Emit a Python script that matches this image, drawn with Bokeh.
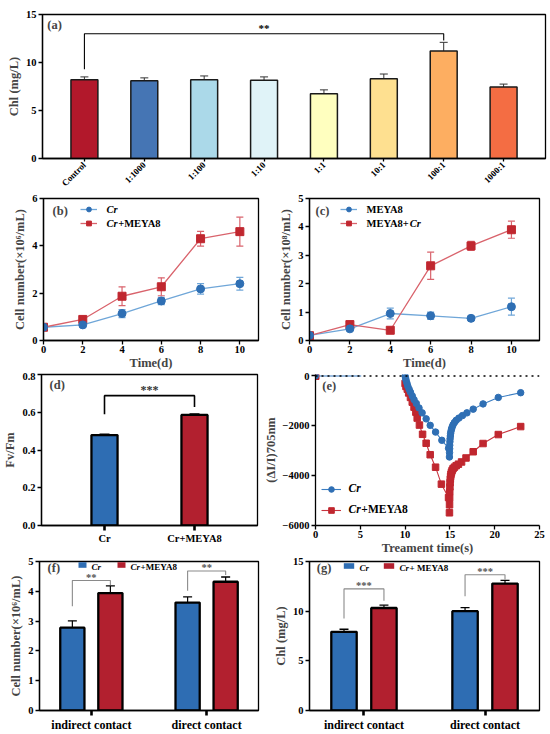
from math import pi
from bokeh.plotting import figure
from bokeh.models import (ColumnDataSource, FactorRange, Range1d, Whisker, TeeHead,
                          Legend, LegendItem, Label, Span, NumeralTickFormatter)
from bokeh.layouts import column, row
from bokeh.transform import dodge
from bokeh.embed import file_html
from bokeh.resources import INLINE
from bokeh.core.properties import value

FONT = "Liberation Serif"
BLUE = "#2E6DB3"
RED = "#B2202F"
BLUE_M = "#2F6FB4"
BLUE_L = "#6FA6D8"
RED_M = "#C0272F"
RED_L = "#D9636C"

# ---------------- data ----------------
# (a)
a_cats = ["Control", "1:1000", "1:100", "1:10", "1:1", "10:1", "100:1", "1000:1"]
a_vals = [8.2, 8.1, 8.2, 8.15, 6.75, 8.3, 11.2, 7.45]
a_errs = [0.3, 0.3, 0.4, 0.35, 0.4, 0.5, 0.9, 0.3]
a_colors = ["#B2182B", "#4575B4", "#ABD9E9", "#E0F3F8", "#FFFFBF", "#FEE090", "#FDAE61", "#F46D43"]
a_bracket_x = ["Control", "Control", "100:1", "100:1"]
a_bracket_y = [9.3, 13.0, 13.0, 12.3]
a_sig = "**"
a_sig_y = 13.55

# (b)
days = [0, 2, 4, 6, 8, 10]
b_cr = [0.56, 0.66, 1.14, 1.67, 2.18, 2.4]
b_cr_err = [0.05, 0.05, 0.17, 0.15, 0.22, 0.27]
b_crm = [0.56, 0.89, 1.87, 2.27, 4.3, 4.6]
b_crm_err = [0.05, 0.13, 0.4, 0.38, 0.31, 0.61]
b_names = [[("Cr", "bold italic")], [("Cr", "bold italic"), ("+MEYA8", "bold")]]

# (c)
c_m = [0.18, 0.41, 0.95, 0.87, 0.78, 1.19]
c_m_err = [0.04, 0.05, 0.19, 0.13, 0.07, 0.3]
c_mc = [0.17, 0.56, 0.36, 2.63, 3.33, 3.9]
c_mc_err = [0.03, 0.05, 0.03, 0.48, 0.16, 0.3]
c_names = [[("MEYA8", "bold")], [("MEYA8+", "bold"), ("Cr", "bold italic")]]

# (d)
d_cats = ["Cr", "Cr+MEYA8"]
d_vals = [0.479, 0.586]
d_errs = [0.004, 0.005]
d_bracket_y = [0.59, 0.688, 0.688, 0.628]
d_sig = "***"
d_sig_y = 0.718
d_names = [[("Cr", "bold italic")], [("Cr", "bold italic"), ("+MEYA8", "bold")]]

# (e)
e_base_t = [0, 5.1]
e_base_y = [0, 0]
e_cr_t = [10.0, 10.05, 10.1, 10.2, 10.3, 10.45, 10.6, 10.8, 11.0, 11.25, 11.55, 11.9, 12.35,
          12.8, 13.4, 14.1, 14.85, 14.95, 14.96, 14.97, 14.98, 15.0, 15.02, 15.05, 15.08,
          15.12, 15.18, 15.25, 15.35, 15.5, 15.7, 16.0, 16.4, 16.9, 17.6, 18.7, 20.4, 22.9]
e_cr_y = [0, -80, -160, -280, -400, -530, -650, -800, -950, -1100, -1280, -1480, -1720,
          -1980, -2250, -2580, -2900, -3250, -3080, -2920, -2780, -2640, -2520, -2410, -2310,
          -2220, -2130, -2050, -1960, -1870, -1780, -1690, -1590, -1480, -1330, -1120, -860, -670]
e_crm_t = [10.0, 10.1, 10.25, 10.4, 10.6, 10.8, 11.0, 11.2, 11.35, 11.6, 11.95, 12.35, 12.8,
           13.4, 14.05, 14.85, 14.95, 14.96, 14.97, 14.98, 15.0, 15.02, 15.05, 15.08, 15.12,
           15.18, 15.25, 15.35, 15.5, 15.7, 15.95, 16.3, 16.8, 17.6, 18.7, 20.4, 22.9]
e_crm_y = [-300, -420, -530, -680, -860, -1050, -1250, -1450, -1690, -1970, -2340, -2700, -3160,
           -3660, -4340, -4880, -5490, -5170, -4900, -4650, -4450, -4280, -4140, -4030, -3940,
           -3860, -3790, -3720, -3660, -3600, -3540, -3450, -3290, -3040, -2710, -2350, -2030]
e_names = [[("Cr", "bold italic")], [("Cr", "bold italic"), ("+MEYA8", "bold")]]

# (f)
f_cats = ["indirect contact", "direct contact"]
f_cr = [2.78, 3.62]
f_cr_err = [0.23, 0.19]
f_crm = [3.94, 4.32]
f_crm_err = [0.24, 0.16]
f_br_left = [3.5, 4.02]
f_br_top = [4.36, 4.68]
f_br_right = [4.21, 4.55]
f_sig = ["**", "**"]
f_names = [[("Cr", "bold italic")], [("Cr", "bold italic"), ("+MEYA8", "bold")]]

# (g)
g_cr = [7.92, 10.0]
g_cr_err = [0.26, 0.36]
g_crm = [10.32, 12.78]
g_crm_err = [0.28, 0.32]
g_br_left = [9.27, 11.5]
g_br_top = [12.24, 13.67]
g_br_right = [11.05, 13.2]
g_sig = ["***", "***"]
g_names = [[("Cr", "bold italic")], [("Cr", "bold italic"), (" + MEYA8", "bold")]]

OFF = 0.165  # dodge offset inside a group

# approximate advance widths (em) of Times-metric fonts, used to butt text pieces together
W_BI = {"C": 0.667, "r": 0.389}
W_B = {"+": 0.570, "M": 0.944, "E": 0.667, "Y": 0.722, "A": 0.722, "8": 0.5, " ": 0.25,
       "C": 0.722, "r": 0.444}


def tw(text, style, size):
    table = W_BI if "italic" in style else W_B
    return sum(table.get(ch, 0.55) for ch in text) * size


def rich(p, x, y, parts, size, align="left", y_offset=0.0, x_offset=0.0):
    total = sum(tw(t, s, size) for t, s in parts)
    off = x_offset - (total / 2 if align == "center" else 0)
    for t, s in parts:
        p.add_layout(Label(x=x, y=y, x_offset=off, y_offset=y_offset, text=t, text_font=FONT,
                           text_font_style=s, text_font_size=f"{size}px",
                           text_baseline="middle", text_align="left", text_color="black"))
        off += tw(t, s, size) + (0.6 if "italic" in s else 0)


def make_fig(w, h, xr, yr, bl, br, bt, bb, outline=True):
    p = figure(width=w, height=h, x_range=xr, y_range=yr, toolbar_location=None,
               output_backend="svg", tools="",
               min_border_left=bl, min_border_right=br, min_border_top=bt, min_border_bottom=bb)
    p.grid.visible = False
    p.outline_line_color = "black" if outline else None
    p.outline_line_width = 1.3
    p.background_fill_color = "white"
    p.border_fill_color = "white"
    for ax in p.axis:
        ax.axis_line_width = 1.3
        ax.axis_line_color = "black"
        ax.major_tick_in = 0
        ax.major_tick_out = 4
        ax.major_tick_line_width = 1.3
        ax.minor_tick_line_color = None
        ax.major_label_text_font = FONT
        ax.major_label_text_font_style = "bold"
        ax.major_label_text_font_size = "10.5px"
        ax.major_label_text_color = "black"
        ax.axis_label_text_font = FONT
        ax.axis_label_text_font_style = "bold"
        ax.axis_label_text_font_size = "12.5px"
        ax.axis_label_standoff = 2
        ax.major_label_standoff = 2
    return p


def panel_label(p, x, y, t):
    p.add_layout(Label(x=x, y=y, text=t, text_font=FONT, text_font_style="bold",
                       text_font_size="12.5px", text_baseline="top", text_align="left"))


def style_legend(lg):
    lg.border_line_color = None
    lg.background_fill_alpha = 0
    lg.label_text_font_size = "1px"
    lg.label_width = 5
    lg.click_policy = "none"


def sig_text(p, xs, ys, texts, color="black", size="11px"):
    p.text(x=xs, y=ys, text=texts, text_align="center", text_baseline="middle",
           text_font=value(FONT), text_font_style="bold", text_font_size=size, text_color=color)


# ---------------- (a) ----------------
pa = make_fig(550, 194, FactorRange(factors=a_cats, range_padding=0.05), Range1d(0, 15), 42, 5, 14, 34)
srca = ColumnDataSource(dict(cat=a_cats, val=a_vals,
                             up=[v + e for v, e in zip(a_vals, a_errs)], color=a_colors))
pa.add_layout(Whisker(base="cat", upper="up", lower="val", source=srca, line_color="#333333",
                      line_width=1, upper_head=TeeHead(size=8, line_color="#333333", line_width=1),
                      lower_head=None, level="underlay"))
pa.vbar(x="cat", top="val", width=0.45, fill_color="color", line_color="#1a1a1a",
        line_width=1.5, source=srca)
pa.line(x=a_bracket_x, y=a_bracket_y, line_color="black", line_width=1.1)
amid = (a_cats.index(a_bracket_x[0]) + a_cats.index(a_bracket_x[-1])) / 2 + 0.5
sig_text(pa, [amid], [a_sig_y], [a_sig], size="11px")
pa.yaxis.ticker = [0, 5, 10, 15]
pa.yaxis.axis_label = "Chl (mg/L)"
pa.xaxis.major_label_orientation = pi / 4
pa.xaxis.major_label_text_font_size = "9px"
pa.xaxis.major_tick_out = 3
panel_label(pa, -0.12, 14.6, "(a)")


# ---------------- line panels ----------------
def line_panel(w, bl, br, xend, yend, yticks, s1, e1, s2, e2, names, ylabel, legend_vx,
               frame_w, lab_xy, lab):
    frame_h = 144
    p = make_fig(w, 178, Range1d(0, xend), Range1d(0, yend), bl, br, 4, 30)
    src1 = ColumnDataSource(dict(x=days, y=s1, lo=[a - b for a, b in zip(s1, e1)],
                                 hi=[a + b for a, b in zip(s1, e1)]))
    src2 = ColumnDataSource(dict(x=days, y=s2, lo=[a - b for a, b in zip(s2, e2)],
                                 hi=[a + b for a, b in zip(s2, e2)]))
    for src, col in ((src1, BLUE_L), (src2, RED_L)):
        p.add_layout(Whisker(base="x", upper="hi", lower="lo", source=src, line_color=col,
                             line_width=1.2,
                             upper_head=TeeHead(size=7, line_color=col, line_width=1.2),
                             lower_head=TeeHead(size=7, line_color=col, line_width=1.2),
                             level="underlay"))
    l1 = p.line("x", "y", source=src1, line_color=BLUE_L, line_width=1.3)
    l2 = p.line("x", "y", source=src2, line_color=RED_L, line_width=1.3)
    m2 = p.scatter("x", "y", source=src2, marker="square", size=8, fill_color=RED_M, line_color=RED_M)
    m1 = p.scatter("x", "y", source=src1, marker="circle", size=8, fill_color=BLUE_M, line_color=BLUE_M)
    vy = 111
    lg = Legend(items=[LegendItem(label=value(""), renderers=[l1, m1]),
                       LegendItem(label=value(""), renderers=[l2, m2])],
                location=(legend_vx, vy), glyph_width=17, glyph_height=12, label_height=12,
                spacing=2, padding=2, label_standoff=7)
    style_legend(lg)
    p.add_layout(lg)
    # legend texts (italic species name + upright strain)
    tx = (legend_vx + 2 + 17 + 7) * xend / frame_w
    top_px = frame_h - vy - 30
    for k, parts in enumerate(names):
        cy = yend - (top_px + 2 + 6 + k * 14) * yend / frame_h
        rich(p, tx, cy, parts, 10.5)
    p.xaxis.ticker = days
    p.yaxis.ticker = yticks
    p.xaxis.axis_label = "Time(d)"
    p.xaxis.axis_label_standoff = 0
    p.xaxis.major_label_standoff = 1
    p.yaxis.axis_label = ylabel
    panel_label(p, lab_xy[0], lab_xy[1], lab)
    return p


pb = line_panel(260, 43, 2, 10.95, 6, [0, 2, 4, 6], b_cr, b_cr_err, b_crm, b_crm_err,
                b_names, "Cell number(×10⁶/mL)", 37, 215, (0.46, 5.75), "(b)")
pc = line_panel(290, 49, 11, 11.39, 5, [0, 1, 2, 3, 4, 5], c_m, c_m_err, c_mc, c_mc_err,
                c_names, "Cell number(×10⁸/mL)", 31, 230, (0.3, 4.79), "(c)")

# ---------------- (d) ----------------
pd_ = make_fig(260, 185, FactorRange(factors=d_cats, range_padding=0.2), Range1d(0, 0.8), 40, 3, 2, 29)
srcd = ColumnDataSource(dict(cat=d_cats, val=d_vals, up=[v + e for v, e in zip(d_vals, d_errs)],
                             color=[BLUE, RED]))
pd_.add_layout(Whisker(base="cat", upper="up", lower="val", source=srcd, line_color="black",
                       line_width=1.2, upper_head=TeeHead(size=10, line_color="black", line_width=1.5),
                       lower_head=None))
pd_.vbar(x="cat", top="val", width=0.29, fill_color="color", line_color="black",
         line_width=2.3, source=srcd)
pd_.line(x=[d_cats[0], d_cats[0], d_cats[1], d_cats[1]], y=d_bracket_y, line_color="black",
         line_width=1.6)
sig_text(pd_, [1.0], [d_sig_y], [d_sig], color="#333333", size="12px")
pd_.yaxis.ticker = [0, 0.2, 0.4, 0.6, 0.8]
pd_.yaxis.formatter = NumeralTickFormatter(format="0.0")
pd_.yaxis.axis_label = "Fv/Fm"
pd_.xaxis.major_tick_line_width = 2.6
pd_.xaxis.major_tick_out = 5
pd_.xaxis.major_label_overrides = {c: "" for c in d_cats}
for i, parts in enumerate(d_names):
    rich(pd_, i + 0.5, 0, parts, 11, align="center", y_offset=-16)
panel_label(pd_, -0.11, 0.78, "(d)")

# ---------------- (e) ----------------
pe = make_fig(290, 185, Range1d(0, 25), Range1d(-6000, 60), 49, 11, 2, 29, outline=False)
pe.add_layout(Span(location=0, dimension="width", line_dash="dotted", line_color="black",
                   line_width=1.3))
pe.line(x=e_base_t, y=e_base_y, line_color="#3A7DC2", line_width=1.2)
le2 = pe.line(x=e_crm_t, y=e_crm_y, line_color="#C8353F", line_width=1.1)
me2 = pe.scatter(x=e_crm_t, y=e_crm_y, marker="square", size=6.5, fill_color=RED_M, line_color=RED_M)
le1 = pe.line(x=e_cr_t, y=e_cr_y, line_color="#3A7DC2", line_width=1.1)
me1 = pe.scatter(x=e_cr_t, y=e_cr_y, marker="circle", size=6.5, fill_color=BLUE_M, line_color=BLUE_M)
pe.scatter(x=e_base_t[:1], y=e_base_y[:1], marker="square", size=7, fill_color=RED_M, line_color=RED_M)
pe.scatter(x=e_base_t[:1], y=e_base_y[:1], marker="circle", size=6, fill_color=BLUE_M, line_color=BLUE_M)
lge = Legend(items=[LegendItem(label=value(""), renderers=[le1, me1]),
                    LegendItem(label=value(""), renderers=[le2, me2])],
             location=(6, 8), glyph_width=20, glyph_height=14, label_height=14, spacing=7,
             padding=2, label_standoff=6)
style_legend(lge)
pe.add_layout(lge)
e_fh, e_fw = 154, 230
for k, parts in enumerate(e_names):
    cy = -6000 + (8 + 2 + 7 + (1 - k) * 21) * 6060 / e_fh
    rich(pe, (6 + 2 + 20 + 6) * 25 / e_fw, cy, parts, 11.5)
pe.xaxis.ticker = [0, 5, 10, 15, 20, 25]
pe.yaxis.ticker = [-6000, -4000, -2000, 0]
pe.xaxis.axis_label = "Treament time(s)"
pe.xaxis.axis_label_standoff = 0
pe.xaxis.major_label_standoff = 1
pe.yaxis.axis_label = "(ΔI/I)705nm"
panel_label(pe, 0.76, -137, "(e)")


# ---------------- (f), (g) ----------------
def group_panel(w, bl, br, yend, yticks, s1, e1, s2, e2, bl_, bt_, br_, sigs, ylabel,
                names, leg_vx, leg_vy, leg_glyph, item2_px, frame_w, lab_xy, lab):
    frame_h = 152
    p = make_fig(w, 177, FactorRange(factors=f_cats, range_padding=-0.05), Range1d(0, yend),
                 bl, br, 4, 21)
    for s, e, off, col in ((s1, e1, -OFF, BLUE), (s2, e2, OFF, RED)):
        src = ColumnDataSource(dict(cat=f_cats, val=s, up=[a + b for a, b in zip(s, e)]))
        p.add_layout(Whisker(base=dodge("cat", off, range=p.x_range), upper="up", lower="val",
                             source=src, line_color="black", line_width=1.2,
                             upper_head=TeeHead(size=9, line_color="black", line_width=1.3),
                             lower_head=None))
        p.vbar(x=dodge("cat", off, range=p.x_range), top="val", width=0.21, fill_color=col,
               line_color="black", line_width=2.3, source=src)
    xs, ys = [], []
    for i in range(len(f_cats)):
        c = i + 0.5
        xs.append([c - OFF, c - OFF, c + OFF, c + OFF])
        ys.append([bl_[i], bt_[i], bt_[i], br_[i]])
    p.multi_line(xs=xs, ys=ys, line_color="#8a8a8a", line_width=1.1)
    sig_text(p, [i + 0.5 for i in range(len(f_cats))],
             [t + (yend * 0.022) for t in bt_], sigs, color="#555555", size="10.5px")
    d1 = p.vbar(x=[f_cats[0]], top=[0], width=0, fill_color=BLUE, line_color=None)
    d2 = p.vbar(x=[f_cats[0]], top=[0], width=0, fill_color=RED, line_color=None)
    g1 = leg_vx + 1
    spacing = item2_px - (g1 + leg_glyph + 3 + 5)
    lg = Legend(items=[LegendItem(label=value(""), renderers=[d1]),
                       LegendItem(label=value(""), renderers=[d2])],
                orientation="horizontal", location=(leg_vx, leg_vy), glyph_width=leg_glyph,
                glyph_height=7, label_height=11, spacing=spacing, padding=1, label_standoff=3)
    style_legend(lg)
    p.add_layout(lg)
    x0 = 0.05
    ppu = frame_w / 1.9
    cy = yend - (frame_h - leg_vy - 13 + 1 + 5.5) * yend / frame_h
    for gx, parts in zip((g1, item2_px), names):
        rich(p, x0 + (gx + leg_glyph + 3) / ppu, cy, parts, 9)
    p.yaxis.ticker = yticks
    p.yaxis.axis_label = ylabel
    p.xaxis.major_tick_line_width = 2.6
    p.xaxis.major_tick_out = 5
    p.xaxis.major_label_text_font_size = "12px"
    panel_label(p, lab_xy[0], lab_xy[1], lab)
    return p


pf = group_panel(260, 39, 2, 5, [0, 1, 2, 3, 4, 5], f_cr, f_cr_err, f_crm, f_crm_err,
                 f_br_left, f_br_top, f_br_right, f_sig, "Cell number(×10⁶/mL)",
                 f_names, 38, 140, 10, 78, 219, (0.12, 5.02), "(f)")
pg = group_panel(290, 49, 11, 15, [0, 5, 10, 15], g_cr, g_cr_err, g_crm, g_crm_err,
                 g_br_left, g_br_top, g_br_right, g_sig, "Chl (mg/L)",
                 g_names, 33, 139, 13, 74, 230, (0.11, 15.05), "(g)")

layout = column(pa, row(pb, pc), row(pd_, pe), row(pf, pg))
open("out.html", "w").write(file_html(layout, INLINE))
